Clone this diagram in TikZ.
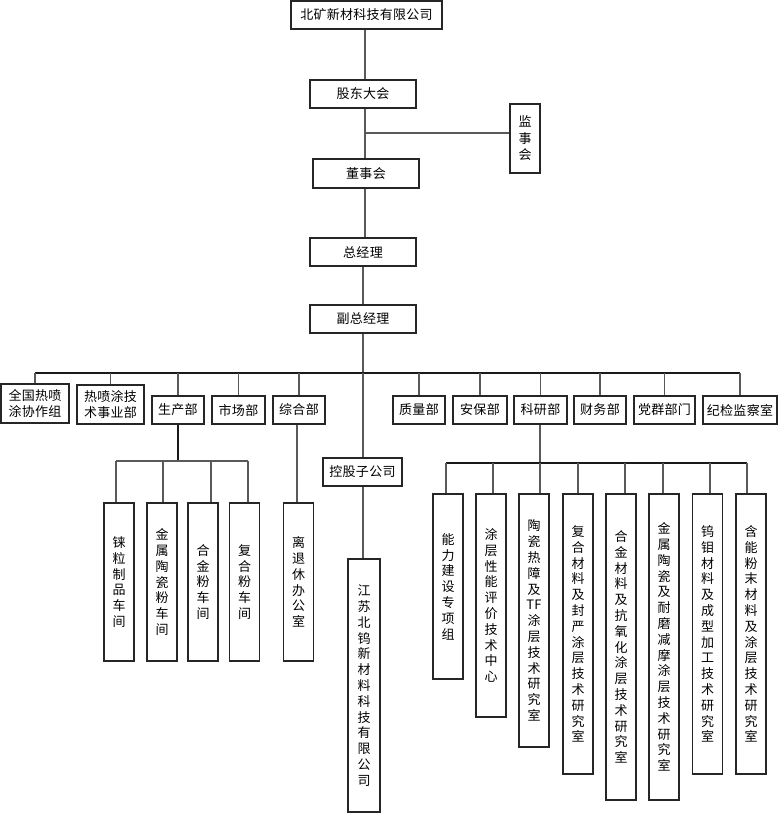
\documentclass[tikz,border=0pt]{standalone}
\usepackage{fontspec}
\setmainfont{Noto Sans CJK SC}[LetterSpace=2]
\begin{document}
\begin{tikzpicture}[x=1pt,y=-1pt,
  box/.style={draw=black!85,line width=1.1pt,fill=white,inner sep=0pt,align=center,
    font=\fontsize{13}{16.5}\selectfont},
  vbox/.style={box,minimum width=30pt,font=\fontsize{13}{15.8}\selectfont},
  link/.style={draw=black!65,line width=1.1pt},
  bus/.style={draw=black!90,line width=1.1pt}]
\useasboundingbox (0,0) rectangle (781,813);

% top chain
\node[box,minimum width=151pt,minimum height=28pt] (top) at (366.5,15) {北矿新材科技有限公司};
\node[box,minimum width=106pt,minimum height=28pt] (gd) at (363,94) {股东大会};
\node[box,minimum width=30pt,minimum height=69pt] (jsh) at (525,138.5) {监\\事\\会};
\node[box,minimum width=106pt,minimum height=29pt] (dsh) at (366,173.5) {董事会};
\node[box,minimum width=106pt,minimum height=28pt] (zjl) at (363,252) {总经理};
\node[box,minimum width=106pt,minimum height=28pt] (fzjl) at (363,319) {副总经理};

\coordinate (mx) at (365,0);
\draw[link] (top.south -| mx) -- (gd.north -| mx);
\draw[link] (gd.south -| mx) -- (dsh.north -| mx);
\coordinate (j0) at (365,133);
\draw[link] (j0) -- (j0 -| jsh.west);
\draw[link] (dsh.south -| mx) -- (zjl.north -| mx);
\draw[link] (zjl.south) -- (fzjl.north);

% first row
\node[box,minimum width=68pt,minimum height=39pt] (qg) at (35,403.5) {全国热喷\\涂协作组};
\node[box,minimum width=67pt,minimum height=39pt] (rp) at (110.5,404.5) {热喷涂技\\术事业部};
\node[box,minimum width=52pt,minimum height=28pt] (sc) at (178,410) {生产部};
\node[box,minimum width=53pt,minimum height=28pt] (scb) at (238.5,410) {市场部};
\node[box,minimum width=52pt,minimum height=28pt] (zh) at (299,410) {综合部};
\node[box,minimum width=52pt,minimum height=28pt] (zl) at (419,410) {质量部};
\node[box,minimum width=54pt,minimum height=28pt] (ab) at (480,410) {安保部};
\node[box,minimum width=53pt,minimum height=28pt] (ky) at (540.5,410) {科研部};
\node[box,minimum width=52pt,minimum height=28pt] (cw) at (600,410) {财务部};
\node[box,minimum width=61pt,minimum height=28pt] (dq) at (664.5,410) {党群部门};
\node[box,minimum width=74pt,minimum height=28pt] (jj) at (740,410) {纪检监察室};

\coordinate (b0) at (363,373);
\draw[link] (fzjl.south) -- (b0);
\draw[bus] (b0 -| qg.north) -- (b0 -| jj.north);
\foreach \n in {qg,rp,sc,scb,zh,zl,ab,ky,cw,dq,jj}
  \draw[link] (b0 -| \n.north) -- (\n.north);

% holding company
\node[box,minimum width=79pt,minimum height=28pt] (kg) at (362.5,472) {控股子公司};
\node[vbox,minimum width=32pt,minimum height=253pt] (js) at (364,685.5)
  {江\\苏\\北\\钨\\新\\材\\料\\科\\技\\有\\限\\公\\司};
\draw[link] (b0) -- (b0 |- kg.north);
\draw[link] (kg.south -| b0) -- (js.north -| b0);

% production workshops
\node[vbox,minimum height=158pt] (r1) at (119,582) {铼\\粒\\制\\品\\车\\间};
\node[vbox,minimum height=158pt] (r2) at (162,582) {金\\属\\陶\\瓷\\粉\\车\\间};
\node[vbox,minimum height=158pt] (r3) at (203,582) {合\\金\\粉\\车\\间};
\node[vbox,minimum height=158pt] (r4) at (244.5,582) {复\\合\\粉\\车\\间};
\coordinate (s0) at (178,461);
\coordinate (s1) at (116,461);
\coordinate (s2) at (163,461);
\coordinate (s3) at (211,461);
\coordinate (s4) at (248,461);
\draw[bus] (sc.south) -- (s0);
\draw[link] (s1) -- (s4);
\draw[link] (s1) -- (s1 |- r1.north);
\draw[link] (s2) -- (s2 |- r2.north);
\draw[link] (s3) -- (s3 |- r3.north);
\draw[link] (s4) -- (s4 |- r4.north);

% retirement office
\node[vbox,minimum height=158pt] (lt) at (298.5,582) {离\\退\\休\\办\\公\\室};
\coordinate (z0) at (297,0);
\draw[link] (zh.south -| z0) -- (lt.north -| z0);

% research labs
\node[vbox,minimum height=185pt] (k1) at (448,586.5) {能\\力\\建\\设\\专\\项\\组};
\node[vbox,minimum height=223pt] (k2) at (491,605.5) {涂\\层\\性\\能\\评\\价\\技\\术\\中\\心};
\node[vbox,minimum height=253pt] (k3) at (534,620.5) {陶\\瓷\\热\\障\\及\\TF\\涂\\层\\技\\术\\研\\究\\室};
\node[vbox,minimum height=280pt] (k4) at (578,634) {复\\合\\材\\料\\及\\封\\严\\涂\\层\\技\\术\\研\\究\\室};
\node[vbox,minimum height=306pt] (k5) at (621,647) {合\\金\\材\\料\\及\\抗\\氧\\化\\涂\\层\\技\\术\\研\\究\\室};
\node[vbox,minimum height=306pt] (k6) at (664,647) {金\\属\\陶\\瓷\\及\\耐\\磨\\减\\摩\\涂\\层\\技\\术\\研\\究\\室};
\node[vbox,minimum height=280pt] (k7) at (707.5,634) {钨\\钼\\材\\料\\及\\成\\型\\加\\工\\技\\术\\研\\究\\室};
\node[vbox,minimum height=280pt] (k8) at (751,634) {含\\能\\粉\\末\\材\\料\\及\\涂\\层\\技\\术\\研\\究\\室};
\coordinate (t0) at (540,463);
\coordinate (t1) at (446,463);
\coordinate (t2) at (493,463);
\coordinate (t4) at (578,463);
\coordinate (t5) at (625,463);
\coordinate (t6) at (663,463);
\coordinate (t7) at (710,463);
\coordinate (t8) at (747,463);
\draw[link] (ky.south -| t0) -- (t0);
\draw[bus] (t1) -- (t8);
\draw[link] (t1) -- (t1 |- k1.north);
\draw[link] (t2) -- (t2 |- k2.north);
\draw[link] (t0) -- (t0 |- k3.north);
\draw[link] (t4) -- (t4 |- k4.north);
\draw[link] (t5) -- (t5 |- k5.north);
\draw[link] (t6) -- (t6 |- k6.north);
\draw[link] (t7) -- (t7 |- k7.north);
\draw[link] (t8) -- (t8 |- k8.north);
\end{tikzpicture}
\end{document}
